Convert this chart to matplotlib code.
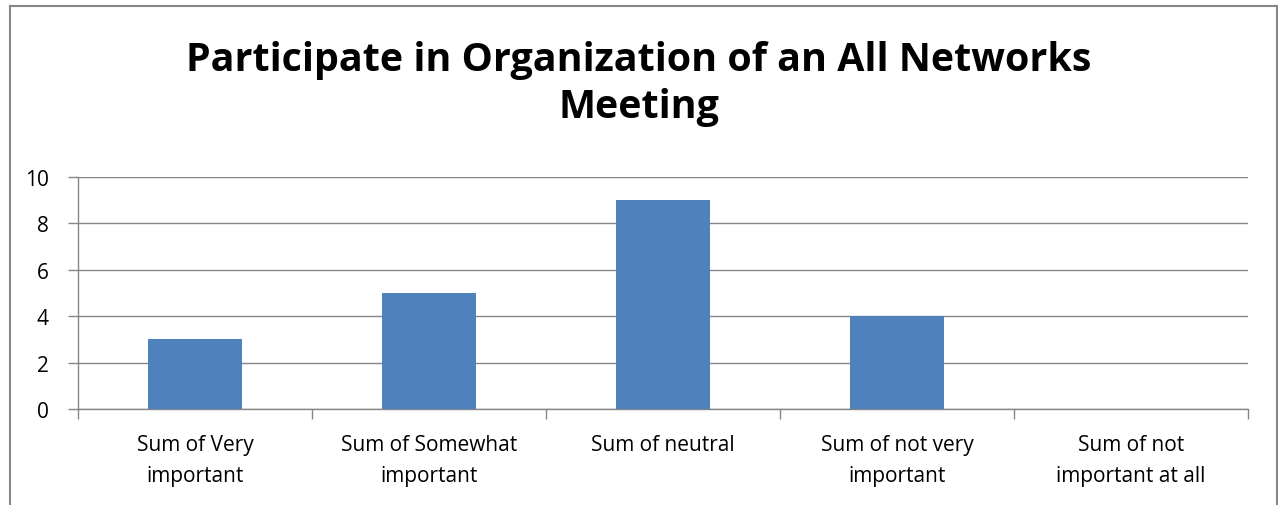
import matplotlib
matplotlib.use("Agg")
import matplotlib.pyplot as plt
from matplotlib.lines import Line2D

categories = ["Sum of Very\nimportant", "Sum of Somewhat\nimportant", "Sum of neutral",
              "Sum of not very\nimportant", "Sum of not\nimportant at all"]
values = [3, 5, 9, 4, 0]
yticks = [0, 2, 4, 6, 8, 10]
title = "Participate in Organization of an All Networks\nMeeting"

plt.rcParams["font.family"] = ["Open Sans", "DejaVu Sans"]
GRID = "#868686"

fig = plt.figure(figsize=(12.78, 5.06), dpi=100)
ax = fig.add_axes([78 / 1278, 1 - 410 / 506, (1248 - 78) / 1278, (410 - 178) / 506])

x = list(range(len(values)))
ax.bar(x, values, width=0.4, color="#4F81BD", zorder=3)
ax.set_xlim(-0.5, len(values) - 0.5)
ax.set_ylim(0, 10)
ax.set_yticks(yticks)
ax.yaxis.grid(True, color=GRID, linewidth=1.0, zorder=0)
ax.tick_params(axis="y", length=7, width=1.0, color=GRID, labelsize=15, pad=14)

# category labels at centres, tick marks at the category boundaries
ax.set_xticks(x)
ax.set_xticklabels(categories, fontsize=15, linespacing=1.62)
ax.tick_params(axis="x", length=0, pad=18)
ax.set_xticks([i - 0.5 for i in range(len(values) + 1)], minor=True)
ax.tick_params(axis="x", which="minor", length=7, width=1.0, color=GRID)

for side in ["top", "right"]:
    ax.spines[side].set_visible(False)
for side in ["left", "bottom"]:
    ax.spines[side].set_color(GRID)
    ax.spines[side].set_linewidth(1.0)

fig.text(0.5, 1 - 84 / 506, title, ha="center", va="center", fontsize=28.4,
         fontweight="bold", linespacing=1.24)

# chart frame (left, top, right; bottom is cut off)
for xs, ys in [([9.5, 9.5], [0, 499]), ([9.5, 1277], [499, 499]), ([1276.5, 1276.5], [0, 499])]:
    fig.add_artist(Line2D([v / 1278 for v in xs], [v / 506 for v in ys], color=GRID, linewidth=1.5))

fig.savefig("out.png", dpi=100)
